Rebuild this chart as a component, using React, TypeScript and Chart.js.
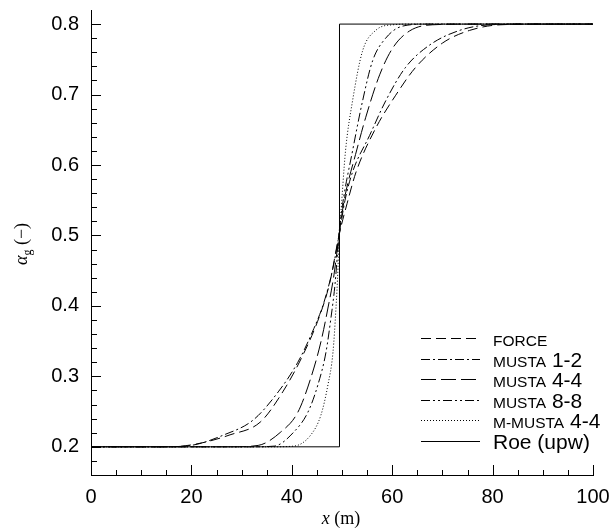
import React, { useEffect, useRef } from 'react';
import { Chart, registerables } from 'chart.js';

Chart.register(...registerables);

// ---- data ----
const forceX = [0, 16, 21.7, 27.7, 33.7, 38.2, 42.2, 45.6, 47.6, 49.4, 51.0, 52.8, 56.7, 60.7, 64.6, 70.0, 75.4, 81.5, 90, 100];
const forceY = [0.2, 0.2, 0.205, 0.217, 0.235, 0.278, 0.330, 0.387, 0.434, 0.5, 0.545, 0.59, 0.652, 0.699, 0.738, 0.773, 0.791, 0.799, 0.8, 0.8];

const musta12X = [0, 14, 19.9, 26.5, 32.3, 37.3, 41.2, 44.4, 46.4, 48.2, 49.4, 50.6, 52.1, 55.5, 58.7, 62.6, 67.4, 73.4, 79.5, 88, 100];
const musta12Y = [0.2, 0.2, 0.202, 0.217, 0.238, 0.278, 0.320, 0.368, 0.405, 0.454, 0.5, 0.55, 0.59, 0.642, 0.691, 0.738, 0.770, 0.791, 0.799, 0.8, 0.8];

const musta44X = [0, 28, 33.3, 37.8, 41.2, 43.8, 45.8, 47.2, 48.4, 49.4, 50.2, 50.8, 52.7, 54.7, 57.5, 60.1, 63.4, 68.0, 76, 100];
const musta44Y = [0.2, 0.2, 0.202, 0.221, 0.249, 0.298, 0.349, 0.397, 0.444, 0.5, 0.54, 0.563, 0.615, 0.667, 0.728, 0.766, 0.790, 0.799, 0.8, 0.8];

const musta88X = [0, 32, 36.5, 40.4, 43.2, 45.2, 46.8, 47.8, 48.6, 49.4, 50.1, 52.1, 54.1, 56.1, 58.7, 62.0, 67, 100];
const musta88Y = [0.2, 0.2, 0.201, 0.221, 0.249, 0.288, 0.334, 0.383, 0.430, 0.5, 0.543, 0.620, 0.691, 0.748, 0.780, 0.797, 0.8, 0.8];

const mMusta44X = [0, 36, 40.4, 43.8, 45.8, 47.2, 48.2, 48.8, 49.2, 49.4, 49.7, 50.7, 52.1, 54.1, 56.7, 60.1, 64, 100];
const mMusta44Y = [0.2, 0.2, 0.201, 0.217, 0.245, 0.288, 0.334, 0.397, 0.454, 0.5, 0.525, 0.620, 0.691, 0.762, 0.791, 0.799, 0.8, 0.8];

const roeX = [0, 49.5, 49.5, 100];
const roeY = [0.2, 0.2, 0.8, 0.8];

const xTicks = [0, 20, 40, 60, 80, 100];
const yTicks = [0.2, 0.3, 0.4, 0.5, 0.6, 0.7, 0.8];

// legend labels: [small-caps part, normal part]
const legendLabels: [string, string][] = [
  ['FORCE', ''],
  ['MUSTA', ' 1-2'],
  ['MUSTA', ' 4-4'],
  ['MUSTA', ' 8-8'],
  ['M-MUSTA', ' 4-4'],
  ['', 'Roe (upw)'],
];

const dashes: number[][] = [
  [10, 5],
  [9, 3, 2, 3],
  [15, 5],
  [9, 3, 2, 3, 2, 3],
  [1, 2],
  [],
];

const SANS = '"Liberation Sans", Arial, Helvetica, sans-serif';
const SERIF = '"Liberation Serif", "Times New Roman", serif';

const pts = (xs: number[], ys: number[]) => xs.map((x, i) => ({ x, y: ys[i] }));

const decorPlugin = {
  id: 'decor',
  afterDraw(chart: any) {
    const ctx = chart.ctx as CanvasRenderingContext2D;
    const xs = chart.scales.x;
    const ys = chart.scales.y;
    const area = chart.chartArea;
    ctx.save();
    ctx.strokeStyle = '#000';
    ctx.lineWidth = 1;
    ctx.setLineDash([]);
    // x ticks (inward)
    for (let v = 0; v <= 100; v += 5) {
      const px = Math.round(xs.getPixelForValue(v)) + 0.5;
      const len = v % 20 === 0 ? 10 : 5;
      ctx.beginPath();
      ctx.moveTo(px, area.bottom);
      ctx.lineTo(px, area.bottom - len);
      ctx.stroke();
    }
    // y ticks (inward)
    for (let k = 9; k <= 40; k++) {
      const v = k * 0.02;
      const py = Math.round(ys.getPixelForValue(v)) + 0.5;
      const major = k % 5 === 0;
      const len = major ? 10 : 6;
      ctx.beginPath();
      ctx.moveTo(area.left, py);
      ctx.lineTo(area.left + len, py);
      ctx.stroke();
    }

    // legend
    const lx0 = 421, lx1 = 480, tx = 493;
    const y0 = 338, dy = 20.5;
    legendLabels.forEach((lab, i) => {
      const y = Math.round(y0 + i * dy) + 0.5;
      ctx.setLineDash(dashes[i]);
      ctx.beginPath();
      ctx.moveTo(lx0, y);
      ctx.lineTo(lx1, y);
      ctx.stroke();
      ctx.setLineDash([]);
      ctx.fillStyle = '#000';
      ctx.textBaseline = 'alphabetic';
      ctx.textAlign = 'left';
      let x = tx;
      const base = y + 7.5;
      if (lab[0]) {
        ctx.font = `15.5px ${SANS}`;
        ctx.fillText(lab[0], x, base);
        x += ctx.measureText(lab[0]).width;
      }
      if (lab[1]) {
        ctx.font = `21px ${SANS}`;
        ctx.fillText(lab[1], x, base);
      }
    });

    // x title
    ctx.font = `italic 18px ${SERIF}`;
    const a = 'x';
    const wa = ctx.measureText(a).width;
    ctx.font = `18px ${SERIF}`;
    const b = ' (m)';
    const wb = ctx.measureText(b).width;
    let sx = 341 - (wa + wb) / 2;
    ctx.textBaseline = 'alphabetic';
    ctx.font = `italic 18px ${SERIF}`;
    ctx.fillText(a, sx, 524);
    ctx.font = `18px ${SERIF}`;
    ctx.fillText(b, sx + wa, 524);

    // y title (rotated)
    ctx.translate(27, 244);
    ctx.rotate(-Math.PI / 2);
    ctx.font = `italic 18px ${SERIF}`;
    const w1 = ctx.measureText('α').width;
    ctx.font = `12px ${SERIF}`;
    const w2 = ctx.measureText('g').width;
    ctx.font = `18px ${SERIF}`;
    const w3 = ctx.measureText(' (−)').width;
    let s = -(w1 + w2 + w3) / 2;
    ctx.font = `italic 18px ${SERIF}`;
    ctx.fillText('α', s, 0);
    ctx.font = `12px ${SERIF}`;
    ctx.fillText('g', s + w1, 4);
    ctx.font = `18px ${SERIF}`;
    ctx.fillText(' (−)', s + w1 + w2, 0);
    ctx.restore();
  },
};

export default function App() {
  const ref = useRef<HTMLCanvasElement | null>(null);
  useEffect(() => {
    document.body.style.margin = '0';
    const canvas = ref.current!;
    const mk = (label: string, xs: number[], ys: number[], dash: number[], stepped = false) => ({
      label,
      data: pts(xs, ys),
      borderColor: '#000',
      borderWidth: 1,
      borderDash: dash,
      pointRadius: 0,
      fill: false,
      cubicInterpolationMode: stepped ? 'default' : 'monotone',
      tension: 0,
    });
    const chart = new Chart(canvas, {
      type: 'line',
      data: {
        datasets: [
          mk('FORCE', forceX, forceY, dashes[0]),
          mk('MUSTA 1-2', musta12X, musta12Y, dashes[1]),
          mk('MUSTA 4-4', musta44X, musta44Y, dashes[2]),
          mk('MUSTA 8-8', musta88X, musta88Y, dashes[3]),
          mk('M-MUSTA 4-4', mMusta44X, mMusta44Y, dashes[4]),
          mk('Roe (upw)', roeX, roeY, dashes[5], true),
        ] as any,
      },
      options: {
        animation: false,
        responsive: false,
        maintainAspectRatio: false,
        layout: { padding: { left: 0, right: 16, top: 10, bottom: 0 } },
        plugins: { legend: { display: false }, tooltip: { enabled: false } },
        scales: {
          x: {
            type: 'linear',
            min: 0,
            max: 100,
            afterBuildTicks: (s: any) => { s.ticks = xTicks.map((v) => ({ value: v })); },
            ticks: { color: '#000', font: { family: SANS, size: 20 }, padding: 10, maxRotation: 0, autoSkip: false },
            grid: { display: false, drawTicks: false },
            border: { display: true, color: '#000', width: 1 },
            afterFit: (s: any) => { s.height = 55; s.paddingLeft = 0; s.paddingRight = 0; },
          },
          y: {
            type: 'linear',
            min: 0.16,
            max: 0.82,
            afterBuildTicks: (s: any) => { s.ticks = yTicks.map((v) => ({ value: v })); },
            ticks: { color: '#000', font: { family: SANS, size: 20 }, padding: 12, autoSkip: false, callback: (v: any) => Number(v).toFixed(1) },
            grid: { display: false, drawTicks: false },
            border: { display: true, color: '#000', width: 1 },
            afterFit: (s: any) => { s.width = 91; s.paddingTop = 0; s.paddingBottom = 0; },
          },
        },
      } as any,
      plugins: [decorPlugin],
    });
    return () => chart.destroy();
  }, []);
  return (
    <div style={{ width: 609, height: 530 }}>
      <canvas ref={ref} width={609} height={530} style={{ display: 'block' }} />
    </div>
  );
}
